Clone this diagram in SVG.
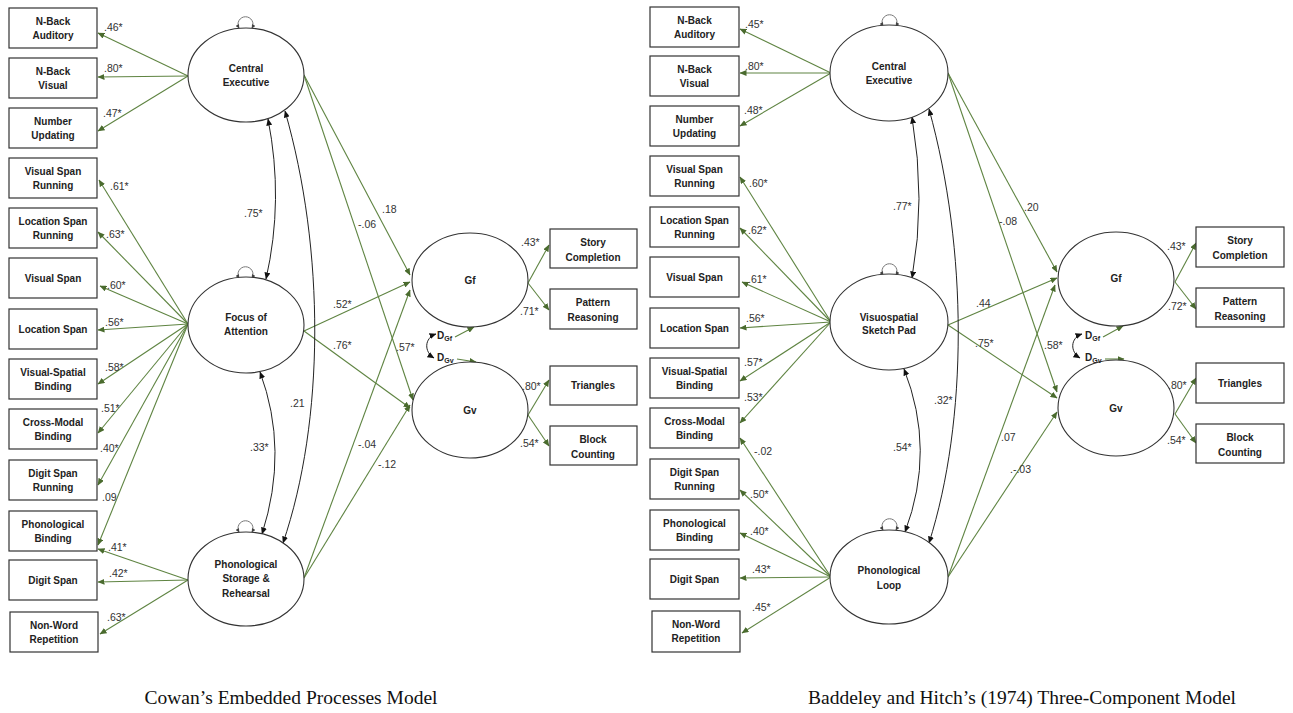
<svg xmlns="http://www.w3.org/2000/svg" width="1293" height="713" viewBox="0 0 1293 713">
<style>
.box{fill:#fff;stroke:#333;stroke-width:1.2}
.ell{fill:#fff;stroke:#333;stroke-width:1.1}
.bt{font-family:"Liberation Sans",Arial,sans-serif;font-size:10px;font-weight:bold;fill:#222;text-anchor:middle}
.cf{font-family:"Liberation Sans",Arial,sans-serif;font-size:10.5px;fill:#333}
.g{stroke:#5f8442;stroke-width:1.1;fill:none;marker-end:url(#ga)}
.k{stroke:#222;stroke-width:1;fill:none;marker-start:url(#ka);marker-end:url(#ka)}
.lp{stroke:#777;stroke-width:1;fill:none;marker-start:url(#la);marker-end:url(#la)}
.ttl{font-family:"Liberation Serif","Times New Roman",serif;font-size:19.5px;fill:#111;text-anchor:middle}
.d{font-family:"Liberation Sans",Arial,sans-serif;font-size:10px;font-weight:bold;fill:#222}
</style>
<defs>
<marker id="ga" markerWidth="7" markerHeight="6" refX="6.5" refY="3" orient="auto" markerUnits="userSpaceOnUse"><path d="M0,0 L7,3 L0,6 z" fill="#4a6b2e"/></marker>
<marker id="ka" markerWidth="7" markerHeight="6" refX="6.5" refY="3" orient="auto-start-reverse" markerUnits="userSpaceOnUse"><path d="M0,0 L7,3 L0,6 z" fill="#111"/></marker>
<marker id="la" markerWidth="4" markerHeight="4" refX="3.5" refY="2" orient="auto-start-reverse" markerUnits="userSpaceOnUse"><path d="M0,0 L4,2 L0,4 z" fill="#444"/></marker>
</defs>
<rect width="1293" height="713" fill="#fff"/>

<g id="connectors">
<path class="g" d="M188,76 L98,33"/>
<path class="g" d="M188,76 L98,77"/>
<path class="g" d="M188,76 L98,131"/>
<path class="g" d="M188,324 L99,180"/>
<path class="g" d="M188,324 L98,232"/>
<path class="g" d="M188,324 L100,286"/>
<path class="g" d="M188,324 L98,330"/>
<path class="g" d="M188,324 L98,384"/>
<path class="g" d="M188,324 L98,433"/>
<path class="g" d="M188,324 L98,485"/>
<path class="g" d="M188,324 L98,545"/>
<path class="g" d="M188,580 L98,549"/>
<path class="g" d="M188,580 L98,582"/>
<path class="g" d="M188,580 L100,634"/>
<path class="g" d="M304,75 L410,275"/>
<path class="g" d="M304,75 L413,400"/>
<path class="g" d="M304,331 L410,282"/>
<path class="g" d="M304,331 L410,408"/>
<path class="g" d="M304,578 L410,290"/>
<path class="g" d="M304,578 L410,405"/>
<path class="g" d="M528,283 L549,245"/>
<path class="g" d="M528,283 L549,310"/>
<path class="g" d="M528,415 L549,380"/>
<path class="g" d="M528,415 L549,446"/>
<path class="g" d="M455,337 L474,327"/>
<path class="g" d="M457,359 L476,362"/>
<path class="k" d="M436,334 C424,338 424,352 434,358"/>
<path class="k" d="M268,119 Q284,200 266,279"/>
<path class="k" d="M285,111 C325,250 325,420 283,543"/>
<path class="k" d="M260,372 Q289,450 262,534"/>

<path class="g" d="M831,73 L740,29"/>
<path class="g" d="M831,73 L740,73"/>
<path class="g" d="M831,73 L740,126"/>
<path class="g" d="M831,322 L740,177"/>
<path class="g" d="M831,322 L740,228"/>
<path class="g" d="M831,322 L742,282"/>
<path class="g" d="M831,322 L740,328"/>
<path class="g" d="M831,322 L740,381"/>
<path class="g" d="M831,322 L740,423"/>
<path class="g" d="M831,577 L740,438"/>
<path class="g" d="M831,577 L740,490"/>
<path class="g" d="M831,577 L740,533"/>
<path class="g" d="M831,577 L740,578"/>
<path class="g" d="M831,577 L742,633"/>
<path class="g" d="M948,73 L1057,272"/>
<path class="g" d="M948,73 L1057,392"/>
<path class="g" d="M948,325 L1057,278"/>
<path class="g" d="M948,325 L1057,398"/>
<path class="g" d="M948,577 L1055,285"/>
<path class="g" d="M948,577 L1057,412"/>
<path class="g" d="M1175,282 L1196,243"/>
<path class="g" d="M1175,282 L1196,309"/>
<path class="g" d="M1175,414 L1196,378"/>
<path class="g" d="M1175,414 L1196,443"/>
<path class="g" d="M1103,337 L1123,326"/>
<path class="g" d="M1105,359 L1124,359"/>
<path class="k" d="M1082,334 C1070,338 1070,352 1080,358"/>
<path class="k" d="M912,117 Q926,200 912,278"/>
<path class="k" d="M929,109 C968,250 968,420 929,543"/>
<path class="k" d="M904,369 Q936,450 905,532"/>

<path class="lp" d="M239,28 A7.5,7.5 0 1 1 252,28"/>
<path class="lp" d="M239,278 A7.5,7.5 0 1 1 252,278"/>
<path class="lp" d="M239,532 A7.5,7.5 0 1 1 252,532"/>
<path class="lp" d="M883,26 A7.5,7.5 0 1 1 896,26"/>
<path class="lp" d="M883,275 A7.5,7.5 0 1 1 896,275"/>
<path class="lp" d="M883,530 A7.5,7.5 0 1 1 896,530"/>
</g>

<g id="coefficients">
<text class="cf" x="104" y="31">.46*</text>
<text class="cf" x="104" y="72">.80*</text>
<text class="cf" x="103" y="117">.47*</text>
<text class="cf" x="110" y="190">.61*</text>
<text class="cf" x="106" y="238">.63*</text>
<text class="cf" x="107" y="289">.60*</text>
<text class="cf" x="105" y="326">.56*</text>
<text class="cf" x="105" y="371">.58*</text>
<text class="cf" x="101" y="412">.51*</text>
<text class="cf" x="100" y="452">.40*</text>
<text class="cf" x="102" y="501">.09</text>
<text class="cf" x="108" y="551">.41*</text>
<text class="cf" x="109" y="577">.42*</text>
<text class="cf" x="107" y="621">.63*</text>
<text class="cf" x="382" y="213">.18</text>
<text class="cf" x="358" y="228">-.06</text>
<text class="cf" x="333" y="308">.52*</text>
<text class="cf" x="333" y="349">.76*</text>
<text class="cf" x="358" y="448">-.04</text>
<text class="cf" x="378" y="468">-.12</text>
<text class="cf" x="521" y="246">.43*</text>
<text class="cf" x="520" y="315">.71*</text>
<text class="cf" x="522" y="390">.80*</text>
<text class="cf" x="520" y="447">.54*</text>
<text class="cf" x="396" y="351">.57*</text>
<text class="cf" x="244" y="217">.75*</text>
<text class="cf" x="290" y="407">.21</text>
<text class="cf" x="250" y="451">.33*</text>

<text class="cf" x="745" y="28">.45*</text>
<text class="cf" x="745" y="70">.80*</text>
<text class="cf" x="744" y="114">.48*</text>
<text class="cf" x="749" y="187">.60*</text>
<text class="cf" x="748" y="234">.62*</text>
<text class="cf" x="748" y="283">.61*</text>
<text class="cf" x="746" y="322">.56*</text>
<text class="cf" x="744" y="366">.57*</text>
<text class="cf" x="744" y="401">.53*</text>
<text class="cf" x="754" y="455">-.02</text>
<text class="cf" x="750" y="498">.50*</text>
<text class="cf" x="750" y="535">.40*</text>
<text class="cf" x="752" y="573">.43*</text>
<text class="cf" x="752" y="611">.45*</text>
<text class="cf" x="1024" y="211">.20</text>
<text class="cf" x="999" y="225">-.08</text>
<text class="cf" x="976" y="307">.44</text>
<text class="cf" x="975" y="347">.75*</text>
<text class="cf" x="1001" y="441">.07</text>
<text class="cf" x="1010" y="473">.-.03</text>
<text class="cf" x="1167" y="250">.43*</text>
<text class="cf" x="1168" y="310">.72*</text>
<text class="cf" x="1168" y="389">.80*</text>
<text class="cf" x="1167" y="444">.54*</text>
<text class="cf" x="1044" y="349">.58*</text>
<text class="cf" x="893" y="210">.77*</text>
<text class="cf" x="934" y="404">.32*</text>
<text class="cf" x="893" y="451">.54*</text>
</g>

<g id="L-nback-aud"><rect class="box" x="9" y="8" width="88" height="40"/><text class="bt" x="53" y="25">N-Back</text><text class="bt" x="53" y="39">Auditory</text></g>
<g id="L-nback-vis"><rect class="box" x="9" y="58" width="88" height="40"/><text class="bt" x="53" y="75">N-Back</text><text class="bt" x="53" y="89">Visual</text></g>
<g id="L-num-upd"><rect class="box" x="9" y="108" width="88" height="40"/><text class="bt" x="53" y="125">Number</text><text class="bt" x="53" y="139">Updating</text></g>
<g id="L-vis-span-run"><rect class="box" x="9" y="158" width="88" height="40"/><text class="bt" x="53" y="175">Visual Span</text><text class="bt" x="53" y="189">Running</text></g>
<g id="L-loc-span-run"><rect class="box" x="9" y="208" width="88" height="40"/><text class="bt" x="53" y="225">Location Span</text><text class="bt" x="53" y="239">Running</text></g>
<g id="L-vis-span"><rect class="box" x="9" y="258" width="88" height="40"/><text class="bt" x="53" y="282">Visual Span</text></g>
<g id="L-loc-span"><rect class="box" x="9" y="309" width="88" height="40"/><text class="bt" x="53" y="333">Location Span</text></g>
<g id="L-vs-bind"><rect class="box" x="9" y="359" width="88" height="40"/><text class="bt" x="53" y="376">Visual-Spatial</text><text class="bt" x="53" y="390">Binding</text></g>
<g id="L-cm-bind"><rect class="box" x="9" y="409" width="88" height="40"/><text class="bt" x="53" y="426">Cross-Modal</text><text class="bt" x="53" y="440">Binding</text></g>
<g id="L-digit-span-run"><rect class="box" x="9" y="460" width="88" height="40"/><text class="bt" x="53" y="477">Digit Span</text><text class="bt" x="53" y="491">Running</text></g>
<g id="L-phon-bind"><rect class="box" x="9" y="511" width="88" height="40"/><text class="bt" x="53" y="528">Phonological</text><text class="bt" x="53" y="542">Binding</text></g>
<g id="L-digit-span"><rect class="box" x="9" y="560" width="88" height="40"/><text class="bt" x="53" y="584">Digit Span</text></g>
<g id="L-nonword"><rect class="box" x="10" y="612" width="88" height="40"/><text class="bt" x="54" y="629">Non-Word</text><text class="bt" x="54" y="643">Repetition</text></g>

<g id="L-central-exec"><ellipse class="ell" cx="246" cy="75" rx="58" ry="47"/><text class="bt" x="246" y="72">Central</text><text class="bt" x="246" y="86">Executive</text></g>
<g id="L-focus"><ellipse class="ell" cx="246" cy="325" rx="58" ry="48"/><text class="bt" x="246" y="321">Focus of</text><text class="bt" x="246" y="335">Attention</text></g>
<g id="L-phono-storage"><ellipse class="ell" cx="246" cy="579" rx="58" ry="47"/><text class="bt" x="246" y="568">Phonological</text><text class="bt" x="246" y="582">Storage &amp;</text><text class="bt" x="246" y="597">Rehearsal</text></g>
<g id="L-gf"><ellipse class="ell" cx="470" cy="280" rx="58" ry="47"/><text class="bt" x="470" y="284">Gf</text></g>
<g id="L-gv"><ellipse class="ell" cx="470" cy="410" rx="58" ry="48"/><text class="bt" x="470" y="414">Gv</text></g>
<g id="L-dgf"><text class="d" x="437" y="339">D<tspan font-size="7" dy="2">Gf</tspan></text></g>
<g id="L-dgv"><text class="d" x="437" y="361">D<tspan font-size="7" dy="2">Gv</tspan></text></g>
<g id="L-story"><rect class="box" x="550" y="229" width="87" height="39"/><text class="bt" x="593" y="246">Story</text><text class="bt" x="593" y="261">Completion</text></g>
<g id="L-pattern"><rect class="box" x="550" y="289" width="87" height="40"/><text class="bt" x="593" y="306">Pattern</text><text class="bt" x="593" y="321">Reasoning</text></g>
<g id="L-triangles"><rect class="box" x="550" y="366" width="87" height="39"/><text class="bt" x="593" y="389">Triangles</text></g>
<g id="L-block"><rect class="box" x="550" y="426" width="87" height="39"/><text class="bt" x="593" y="443">Block</text><text class="bt" x="593" y="458">Counting</text></g>

<g id="R-nback-aud"><rect class="box" x="650" y="7" width="89" height="40"/><text class="bt" x="694.5" y="24">N-Back</text><text class="bt" x="694.5" y="38">Auditory</text></g>
<g id="R-nback-vis"><rect class="box" x="650" y="56" width="89" height="40"/><text class="bt" x="694.5" y="73">N-Back</text><text class="bt" x="694.5" y="87">Visual</text></g>
<g id="R-num-upd"><rect class="box" x="650" y="106" width="89" height="40"/><text class="bt" x="694.5" y="123">Number</text><text class="bt" x="694.5" y="137">Updating</text></g>
<g id="R-vis-span-run"><rect class="box" x="650" y="156" width="89" height="40"/><text class="bt" x="694.5" y="173">Visual Span</text><text class="bt" x="694.5" y="187">Running</text></g>
<g id="R-loc-span-run"><rect class="box" x="650" y="207" width="89" height="40"/><text class="bt" x="694.5" y="224">Location Span</text><text class="bt" x="694.5" y="238">Running</text></g>
<g id="R-vis-span"><rect class="box" x="650" y="257" width="89" height="40"/><text class="bt" x="694.5" y="281">Visual Span</text></g>
<g id="R-loc-span"><rect class="box" x="650" y="308" width="89" height="40"/><text class="bt" x="694.5" y="332">Location Span</text></g>
<g id="R-vs-bind"><rect class="box" x="650" y="358" width="89" height="40"/><text class="bt" x="694.5" y="375">Visual-Spatial</text><text class="bt" x="694.5" y="389">Binding</text></g>
<g id="R-cm-bind"><rect class="box" x="650" y="408" width="89" height="40"/><text class="bt" x="694.5" y="425">Cross-Modal</text><text class="bt" x="694.5" y="439">Binding</text></g>
<g id="R-digit-span-run"><rect class="box" x="650" y="459" width="89" height="40"/><text class="bt" x="694.5" y="476">Digit Span</text><text class="bt" x="694.5" y="490">Running</text></g>
<g id="R-phon-bind"><rect class="box" x="650" y="510" width="89" height="40"/><text class="bt" x="694.5" y="527">Phonological</text><text class="bt" x="694.5" y="541">Binding</text></g>
<g id="R-digit-span"><rect class="box" x="650" y="559" width="89" height="40"/><text class="bt" x="694.5" y="583">Digit Span</text></g>
<g id="R-nonword"><rect class="box" x="652" y="611" width="88" height="41"/><text class="bt" x="696" y="628">Non-Word</text><text class="bt" x="696" y="642">Repetition</text></g>

<g id="R-central-exec"><ellipse class="ell" cx="889" cy="73" rx="59" ry="48"/><text class="bt" x="889" y="70">Central</text><text class="bt" x="889" y="84">Executive</text></g>
<g id="R-vssp"><ellipse class="ell" cx="889" cy="322" rx="59" ry="48"/><text class="bt" x="889" y="321">Visuospatial</text><text class="bt" x="889" y="334">Sketch Pad</text></g>
<g id="R-phono-loop"><ellipse class="ell" cx="889" cy="577" rx="59" ry="47"/><text class="bt" x="889" y="574">Phonological</text><text class="bt" x="889" y="589">Loop</text></g>
<g id="R-gf"><ellipse class="ell" cx="1116" cy="279" rx="58" ry="47"/><text class="bt" x="1116" y="282">Gf</text></g>
<g id="R-gv"><ellipse class="ell" cx="1116" cy="408" rx="58" ry="48"/><text class="bt" x="1116" y="412">Gv</text></g>
<g id="R-dgf"><text class="d" x="1085" y="339">D<tspan font-size="7" dy="2">Gf</tspan></text></g>
<g id="R-dgv"><text class="d" x="1085" y="361">D<tspan font-size="7" dy="2">Gv</tspan></text></g>
<g id="R-story"><rect class="box" x="1196" y="227" width="88" height="40"/><text class="bt" x="1240" y="244">Story</text><text class="bt" x="1240" y="259">Completion</text></g>
<g id="R-pattern"><rect class="box" x="1196" y="288" width="88" height="39"/><text class="bt" x="1240" y="305">Pattern</text><text class="bt" x="1240" y="320">Reasoning</text></g>
<g id="R-triangles"><rect class="box" x="1196" y="363" width="88" height="40"/><text class="bt" x="1240" y="387">Triangles</text></g>
<g id="R-block"><rect class="box" x="1196" y="424" width="88" height="39"/><text class="bt" x="1240" y="441">Block</text><text class="bt" x="1240" y="456">Counting</text></g>

<g id="titles">
<text class="ttl" x="291" y="704">Cowan’s Embedded Processes Model</text>
<text class="ttl" x="1022" y="704">Baddeley and Hitch’s (1974) Three-Component Model</text>
</g>
</svg>
